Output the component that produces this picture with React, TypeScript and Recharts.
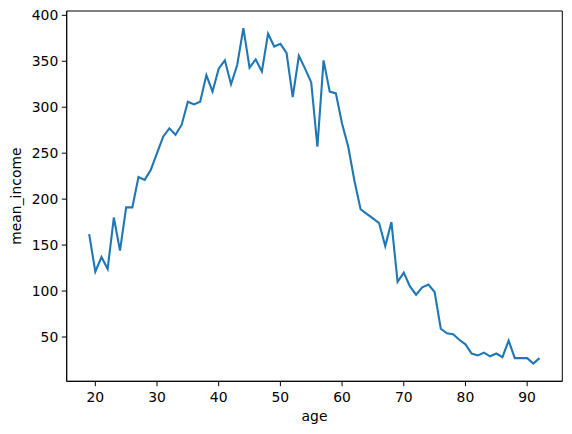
import React from 'react';
import { LineChart, Line, XAxis, YAxis, ReferenceArea } from 'recharts';

const ages = [
  19, 20, 21, 22, 23, 24, 25, 26, 27, 28, 29, 30, 31, 32, 33, 34, 35, 36, 37, 38,
  39, 40, 41, 42, 43, 44, 45, 46, 47, 48, 49, 50, 51, 52, 53, 54, 55, 56, 57, 58,
  59, 60, 61, 62, 63, 64, 65, 66, 67, 68, 69, 70, 71, 72, 73, 74, 75, 76, 77, 78,
  79, 80, 81, 82, 83, 84, 85, 86, 87, 88, 89, 90, 91, 92,
];

const meanIncome = [
  162, 121, 137, 124, 180, 144, 191, 191, 224, 221, 232, 250, 268, 277, 270, 281, 306, 303, 306, 335,
  317, 342, 351, 325, 346, 386, 343, 352, 339, 380, 366, 369, 359, 311, 356, 342, 327, 257, 351, 317,
  315, 282, 257, 220, 189, 184, 179, 174, 149, 175, 110, 120, 105, 96, 104, 107, 99, 59, 54, 53,
  47, 42, 32, 30, 33, 29, 32, 28, 46, 27, 27, 27, 21, 27,
];

const xTicks = [20, 30, 40, 50, 60, 70, 80, 90];
const yTicks = [50, 100, 150, 200, 250, 300, 350, 400];

const data = ages.map((age, i) => ({ age, mean_income: meanIncome[i] }));

const font = { fontFamily: 'DejaVu Sans', fontSize: 13.9, fill: '#000' };
const xDomain = [15.36, 95.7];
const yDomain = [1.8, 404.7];

export default function App() {
  return (
    <div style={{ position: 'absolute', left: 0, top: 0, width: 572, height: 434, background: '#fff' }}>
      <LineChart width={572} height={434} data={data} margin={{ top: 11, right: 9.7, left: 0, bottom: 0 }}>
        <XAxis
          dataKey="age"
          type="number"
          domain={xDomain}
          ticks={xTicks}
          allowDataOverflow
          height={52.7}
          tick={font}
          tickSize={4.9}
          tickMargin={6}
          stroke="#000"
          tickLine={{ stroke: '#000' }}
          axisLine={{ stroke: '#000' }}
          label={{ value: 'age', position: 'insideBottom', offset: 13, style: font }}
        />
        <YAxis
          type="number"
          domain={yDomain}
          ticks={yTicks}
          allowDataOverflow
          width={66.7}
          tick={font}
          tickSize={4.9}
          tickMargin={3.5}
          stroke="#000"
          tickLine={{ stroke: '#000' }}
          axisLine={{ stroke: '#000' }}
          label={{ value: 'mean_income', angle: -90, position: 'insideLeft', offset: 16, style: { ...font, textAnchor: 'middle' } }}
        />
        {/* top and right spines */}
        <ReferenceArea
          x1={xDomain[0]}
          x2={xDomain[1]}
          y1={yDomain[0]}
          y2={yDomain[1]}
          fill="none"
          fillOpacity={0}
          stroke="#000"
          strokeWidth={1}
          ifOverflow="visible"
        />
        <Line
          type="linear"
          dataKey="mean_income"
          stroke="#1f77b4"
          strokeWidth={2.1}
          dot={false}
          isAnimationActive={false}
        />
      </LineChart>
    </div>
  );
}
